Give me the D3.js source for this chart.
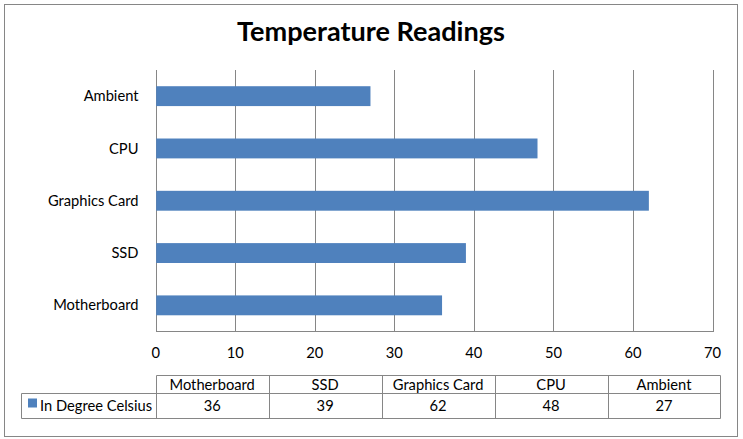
<!DOCTYPE html>
<html><head><meta charset="utf-8">
<script src="https://cdn.jsdelivr.net/npm/d3@7"></script>
<style>
html,body{margin:0;padding:0;background:#fff;}
svg{display:block;}
text{font-family:Lato,"Open Sans",sans-serif;fill:#000;}
</style></head>
<body>
<svg id="c" width="743" height="439"></svg>
<script>
const title = "Temperature Readings";
const categories = ["Motherboard","SSD","Graphics Card","CPU","Ambient"];
const values = [36,39,62,48,27];
const seriesName = "In Degree Celsius";
const ticks = [0,10,20,30,40,50,60,70];

const svg = d3.select("#c");
const grid = "#868686", barColor = "#4F81BD";
const px = v => Math.round(v) + 0.5;
const fs = "14.7px";

// outer border
svg.append("rect").attr("x",4.5).attr("y",4.5).attr("width",733).attr("height",432)
  .attr("fill","#fff").attr("stroke",grid).attr("stroke-width",1);

// title
const t = svg.append("text").attr("x",371).attr("y",41).attr("text-anchor","middle")
  .style("font-weight","bold").style("font-size","26px").text(title);
let tw = t.node().getComputedTextLength();
t.style("font-size",(26*268/tw).toFixed(2)+"px");

const x = d3.scaleLinear().domain([0,70]).range([155.7,712.5]);
const y = d3.scaleBand().domain(categories.slice().reverse()).range([70,331.5]).paddingInner(0.62).paddingOuter(0.31);

// gridlines
svg.append("g").selectAll("line").data(ticks).join("line")
  .attr("x1",d=>px(x(d))).attr("x2",d=>px(x(d)))
  .attr("y1",70).attr("y2",332).attr("stroke",grid).attr("stroke-width",1);
// bottom axis line
svg.append("line").attr("x1",px(x(0))).attr("x2",px(x(70))).attr("y1",331.5).attr("y2",331.5)
  .attr("stroke",grid);

// bars
svg.append("g").selectAll("rect").data(categories).join("rect")
  .attr("x",x(0)+0.5).attr("y",d=>y(d))
  .attr("width",(d,i)=>x(values[i])-x(0)-0.5).attr("height",y.bandwidth())
  .attr("fill",barColor);

// category labels
svg.append("g").selectAll("text").data(categories).join("text")
  .attr("x",138.5).attr("y",d=>y(d)+y.bandwidth()/2).attr("dy","0.35em")
  .attr("text-anchor","end").style("font-size",fs).text(d=>d);

// x tick labels
svg.append("g").selectAll("text").data(ticks).join("text")
  .attr("x",d=>x(d)).attr("y",353).attr("dy","0.35em")
  .attr("text-anchor","middle").style("font-size",fs).text(d=>d);

// data table
const tx = d3.scaleBand().domain(categories).range([155.7,720.5]);
const rowTop = 375.5, rowMid = 393.5, rowBot = 418.5, legLeft = 21.5;
const tg = svg.append("g");
tg.append("line").attr("x1",px(tx.range()[0])).attr("x2",px(720)).attr("y1",rowTop).attr("y2",rowTop).attr("stroke",grid);
tg.append("line").attr("x1",legLeft).attr("x2",px(720)).attr("y1",rowMid).attr("y2",rowMid).attr("stroke",grid);
tg.append("line").attr("x1",legLeft).attr("x2",px(720)).attr("y1",rowBot).attr("y2",rowBot).attr("stroke",grid);
tg.append("line").attr("x1",legLeft).attr("x2",legLeft).attr("y1",rowMid).attr("y2",rowBot).attr("stroke",grid);
const cols = categories.map(c=>tx(c)).concat([720]);
tg.selectAll("line.v").data(cols).join("line").attr("class","v")
  .attr("x1",d=>px(d)).attr("x2",d=>px(d)).attr("y1",rowTop).attr("y2",rowBot).attr("stroke",grid);
tg.selectAll("text.h").data(categories).join("text").attr("class","h")
  .attr("x",d=>tx(d)+tx.bandwidth()/2).attr("y",(rowTop+rowMid)/2).attr("dy","0.35em")
  .attr("text-anchor","middle").style("font-size",fs).text(d=>d);
tg.selectAll("text.v").data(values).join("text").attr("class","v")
  .attr("x",(d,i)=>tx(categories[i])+tx.bandwidth()/2).attr("y",(rowMid+rowBot)/2).attr("dy","0.35em")
  .attr("text-anchor","middle").style("font-size",fs).text(d=>d);
// legend key
tg.append("rect").attr("x",28).attr("y",398.5).attr("width",9).attr("height",9).attr("fill",barColor);
tg.append("text").attr("x",40).attr("y",(rowMid+rowBot)/2).attr("dy","0.35em")
  .style("font-size",fs).text(seriesName);
</script>
</body></html>
